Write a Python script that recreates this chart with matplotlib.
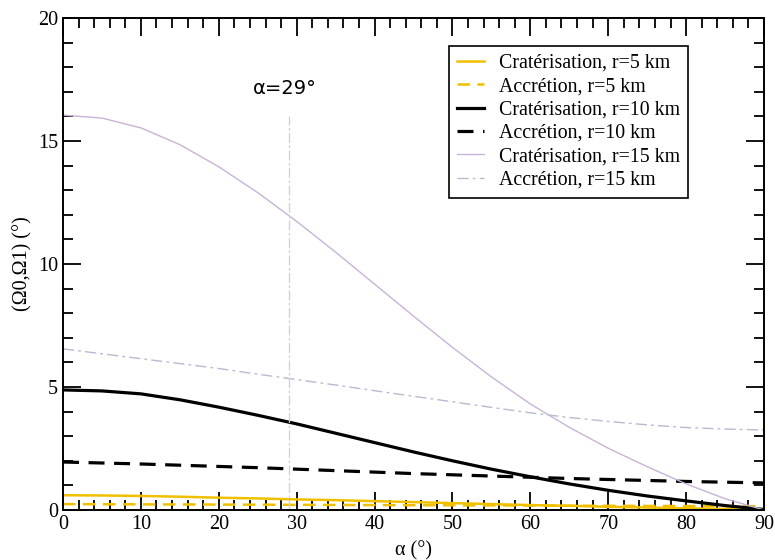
import matplotlib
matplotlib.use("Agg")
import matplotlib.pyplot as plt
from matplotlib.ticker import MultipleLocator

# alpha in degrees, sampled every 5 deg
alpha = [0, 5, 10, 15, 20, 25, 30, 35, 40, 45, 50, 55, 60, 65, 70, 75, 80, 85, 90]

crat_r5 = [0.60, 0.59, 0.57, 0.54, 0.50, 0.47, 0.43, 0.40, 0.36, 0.32, 0.28, 0.24,
           0.20, 0.17, 0.13, 0.10, 0.07, 0.04, 0.01]
accr_r5 = [0.24, 0.235, 0.23, 0.225, 0.22, 0.215, 0.21, 0.205, 0.20, 0.195, 0.19,
           0.185, 0.18, 0.175, 0.17, 0.165, 0.16, 0.155, 0.15]
crat_r10 = [4.88, 4.84, 4.72, 4.48, 4.18, 3.85, 3.50, 3.12, 2.74, 2.36, 2.00, 1.66,
            1.35, 1.06, 0.80, 0.57, 0.37, 0.18, 0.02]
accr_r10 = [1.95, 1.91, 1.87, 1.82, 1.77, 1.72, 1.66, 1.60, 1.54, 1.48, 1.43, 1.38,
            1.33, 1.28, 1.24, 1.20, 1.16, 1.13, 1.10]
crat_r15 = [16.05, 15.93, 15.53, 14.85, 13.95, 12.90, 11.73, 10.48, 9.18, 7.88, 6.61,
            5.41, 4.31, 3.36, 2.51, 1.76, 1.06, 0.46, 0.0]
accr_r15 = [6.55, 6.35, 6.15, 5.95, 5.75, 5.52, 5.30, 5.08, 4.85, 4.62, 4.40, 4.17,
            3.95, 3.76, 3.60, 3.46, 3.35, 3.29, 3.25]

alpha_mark = 29
mark_top = 16.0

plt.rcParams["font.family"] = ["Liberation Serif", "DejaVu Serif"]

GOLD = "#f0c000"
LILAC = "#c9b3d6"
LILAC2 = "#b9b9d2"

fig = plt.figure(figsize=(7.75, 5.6), dpi=100)
ax = fig.add_axes([0.0813, 0.0893, 0.9045, 0.8787])

ax.plot(alpha, crat_r5, color=GOLD, lw=1.8, label="Cratérisation, r=5 km")
ax.plot(alpha, accr_r5, color=GOLD, lw=1.8, ls=(0, (5, 3)), label="Accrétion, r=5 km")
ax.plot(alpha, crat_r10, color="black", lw=2.3, label="Cratérisation, r=10 km")
ax.plot(alpha, accr_r10, color="black", lw=2.3, ls=(0, (5, 3)), label="Accrétion, r=10 km")
ax.plot(alpha, crat_r15, color=LILAC, lw=1.0, label="Cratérisation, r=15 km")
ax.plot(alpha, accr_r15, color=LILAC2, lw=1.0, ls=(0, (8, 3, 2, 3)),
        label="Accrétion, r=15 km")

ax.plot([alpha_mark, alpha_mark], [0, mark_top], color="#cfcfda", lw=0.9,
        ls=(0, (8, 2, 2, 2)))
ax.text(alpha_mark - 0.5, 16.75, "α=29°", ha="center", va="bottom", fontsize=14,
        family=["DejaVu Sans"])

ax.set_xlim(0, 90)
ax.set_ylim(0, 20)
ax.xaxis.set_major_locator(MultipleLocator(10))
ax.xaxis.set_minor_locator(MultipleLocator(2))
ax.yaxis.set_major_locator(MultipleLocator(5))
ax.yaxis.set_minor_locator(MultipleLocator(1))
ax.tick_params(which="both", direction="in", top=True, right=True, labelsize=14.5,
               width=1.3)
ax.tick_params(which="major", length=13)
ax.tick_params(which="minor", length=7)
for s in ax.spines.values():
    s.set_linewidth(1.4)

ax.set_xlabel("α (°)", fontsize=14.5, labelpad=5)
ax.set_ylabel("(Ω0,Ω1) (°)", fontsize=14.5, labelpad=4)

leg = ax.legend(loc="upper right", bbox_to_anchor=(0.892, 0.943), fontsize=14.3,
                handlelength=1.4, handletextpad=0.75, labelspacing=0.22,
                borderpad=0.4, borderaxespad=0, fancybox=False, framealpha=1,
                edgecolor="black")
leg.get_frame().set_linewidth(1.2)

fig.savefig("out.png", dpi=100)
